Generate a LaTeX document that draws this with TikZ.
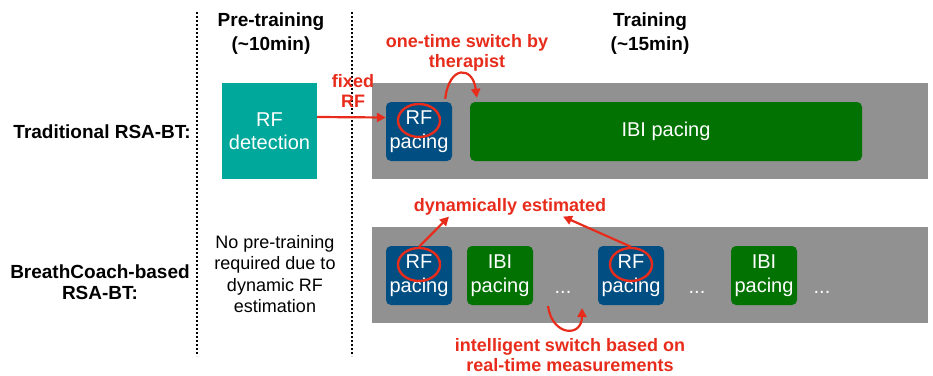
\documentclass[tikz,border=0pt]{standalone}
\usepackage{fontspec}
\setmainfont{Liberation Sans}
\usepackage{tikz}
\usetikzlibrary{arrows.meta, positioning, shapes.geometric}
\usepackage{xcolor}

\definecolor{detteal}{RGB}{0,167,155}
\definecolor{rfblue}{RGB}{0,78,130}
\definecolor{ibigreen}{RGB}{2,114,2}
\definecolor{bandgray}{RGB}{145,145,145}
\definecolor{notered}{RGB}{232,44,28}

\tikzset{
  band/.style={fill=bandgray, inner sep=0pt, minimum width=556pt, minimum height=96pt},
  pacebox/.style={rounded corners=5pt, text=white, align=center, inner sep=0pt,
    font=\fontsize{20}{24}\selectfont, minimum height=59pt},
  rfbox/.style={pacebox, fill=rfblue, minimum width=66pt},
  ibibox/.style={pacebox, fill=ibigreen, minimum width=66pt},
  ring/.style={ellipse, draw=notered, line width=2.4pt, inner sep=0pt,
    minimum width=42pt, minimum height=33pt},
  heading/.style={font=\bfseries\fontsize{19}{24}\selectfont, align=center},
  rowlabel/.style={font=\bfseries\fontsize{19}{21}\selectfont, align=center},
  redlabel/.style={text=notered, font=\bfseries\fontsize{18}{20}\selectfont, align=center, inner sep=1pt},
  redarrow/.style={draw=notered, line width=2.2pt, -{Triangle[length=9pt,width=9pt]}},
  sepline/.style={line width=2pt, dash pattern=on 2pt off 2pt},
  dots/.style={text=white, font=\fontsize{20}{24}\selectfont, anchor=base}
}

\begin{document}
\begin{tikzpicture}[x=1pt, y=-1pt]
      \useasboundingbox (0,0) rectangle (933,375);

      % phase separators
      \coordinate (sepA top) at (197,12);
      \coordinate (sepA bot) at (197,356);
      \coordinate (sepB top) at (352,12);
      \coordinate (sepB bot) at (352,356);
      \draw[sepline] (sepA top) -- (sepA bot);
      \draw[sepline] (sepB top) -- (sepB bot);

      \node[heading] (pretrain) at (271,34) {Pre-training\\(\textasciitilde10min)};
      \node[heading] (train) at (650,34) {Training\\(\textasciitilde15min)};

      \node[rowlabel, anchor=east, inner sep=0pt] (trad) at (191,132) {Traditional RSA-BT:};
      \node[rowlabel] (coach) at (100,282) {BreathCoach-based\\RSA-BT:};

      % traditional row
      \node[fill=detteal, text=white, align=center, inner sep=0pt, minimum width=95pt,
        minimum height=96pt, font=\fontsize{20}{23}\selectfont] (rfdet) at (269.5,131) {RF\\detection};
      \node[band] (bandA) at (650,131) {};
      \node[rfbox] (rfA) at (419,131.5) {RF\\pacing};
      \node[ring] (ringA) at ([yshift=11pt]rfA.center) {};
      \node[pacebox, fill=ibigreen, minimum width=392pt] (ibiA) at (666,131.5) {IBI pacing};

      \node[redlabel] (fixed) at (353,91) {fixed\\RF};
      \node[redlabel] (onetime) at (467,53) {one-time switch by\\therapist};
      \draw[redarrow] ([yshift=14pt]rfdet.east) -- ([yshift=14pt]rfA.west);
      \draw[redarrow] ([shift={(-7,-3)}]rfA.north east) .. controls +(4,-34) and +(-4,-32) .. ([shift={(7,-4)}]ibiA.north west);

      % breathcoach row
      \node[align=center, font=\fontsize{18}{21.5}\selectfont] (nopre) at (275,274)
        {No pre-training\\required due to\\dynamic RF\\estimation};
      \node[band] (bandB) at (650,275) {};
      \node[rfbox] (rfB) at (419,275.5) {RF\\pacing};
      \node[ibibox] (ibiB) at (500,275.5) {IBI\\pacing};
      \node[rfbox] (rfC) at (631,275.5) {RF\\pacing};
      \node[ibibox] (ibiC) at (764,275.5) {IBI\\pacing};
      \node[ring] (ringB) at ([yshift=11pt]rfB.center) {};
      \node[ring] (ringC) at ([yshift=11pt]rfC.center) {};
      \node[dots] (dotsA) at (563,293) {...};
      \node[dots] (dotsB) at (697,293) {...};
      \node[dots] (dotsC) at (822,293) {...};

      \node[redlabel] (dyn) at (510,207) {dynamically estimated};
      \node[redlabel] (smart) at (570,355) {intelligent switch based on\\real-time measurements};
      \draw[redarrow] (ringB.north) -- ([xshift=-61pt]dyn.south);
      \draw[redarrow] (ringC.north) -- ([xshift=53pt]dyn.south);
      \draw[redarrow] ([shift={(-15,13)}]dotsA.base) .. controls +(4,30) and +(0,30) .. ([shift={(19,15)}]dotsA.base);
\end{tikzpicture}
\end{document}
